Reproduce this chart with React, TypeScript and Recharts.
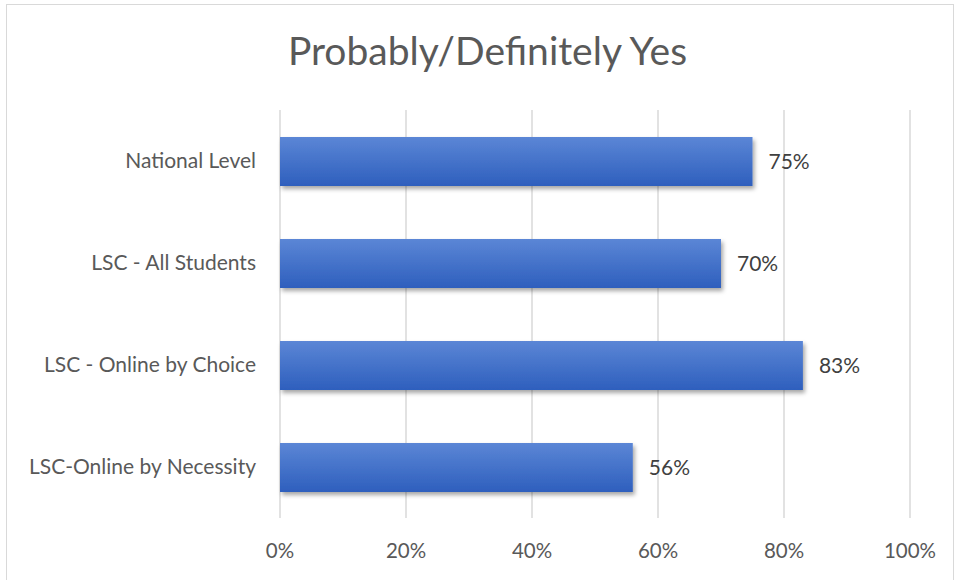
import { Bar, BarChart, CartesianGrid, LabelList, XAxis, YAxis } from "recharts";

const categories = [
  "National Level",
  "LSC - All Students",
  "LSC - Online by Choice",
  "LSC-Online by Necessity",
];
const yesShare = [75, 70, 83, 56];
const xTicks = [0, 20, 40, 60, 80, 100];

const data = categories.map((label, i) => ({ label, value: yesShare[i] }));

const FONT = "Lato, 'Open Sans', sans-serif";
const TEXT = "#595959";

export default function App() {
  return (
    <div
      style={{
        position: "absolute",
        left: 0,
        top: 0,
        width: 957,
        height: 580,
        background: "#fff",
        fontFamily: FONT,
        overflow: "hidden",
      }}
    >
      <div
        style={{
          position: "absolute",
          left: 6,
          top: 4,
          width: 948,
          height: 600,
          border: "1px solid #d9d9d9",
          boxSizing: "border-box",
        }}
      />
      <div
        style={{
          position: "absolute",
          left: 0,
          top: 27,
          width: 975,
          textAlign: "center",
          fontSize: 39,
          lineHeight: "46px",
          color: TEXT,
        }}
      >
        Probably/Definitely Yes
      </div>
      <div style={{ position: "absolute", left: 0, top: 0 }}>
        <BarChart
          width={957}
          height={580}
          data={data}
          layout="vertical"
          margin={{ top: 110, right: 47, bottom: 0, left: 0 }}
        >
          <defs>
            <linearGradient id="barFill" x1="0" y1="0" x2="0" y2="1">
              <stop offset="0%" stopColor="#5b86d6" />
              <stop offset="100%" stopColor="#2e5fbd" />
            </linearGradient>
            <filter id="barShadow" x="-5%" y="-20%" width="115%" height="160%">
              <feDropShadow dx="2" dy="3" stdDeviation="2" floodColor="#000" floodOpacity="0.35" />
            </filter>
          </defs>
          <CartesianGrid horizontal={false} stroke="#d9d9d9" strokeWidth={1.5} />
          <XAxis
            type="number"
            domain={[0, 100]}
            ticks={xTicks}
            tickFormatter={(v: number) => `${v}%`}
            axisLine={false}
            tickLine={false}
            height={62}
            tickMargin={19}
            tick={{ fill: TEXT, fontSize: 20.5, fontFamily: FONT }}
            interval={0}
          />
          <YAxis
            type="category"
            dataKey="label"
            width={280}
            axisLine={false}
            tickLine={false}
            tickMargin={18}
            tick={{ fill: TEXT, fontSize: 21, fontFamily: FONT }}
            interval={0}
          />
          <Bar
            dataKey="value"
            fill="url(#barFill)"
            barSize={49}
            filter="url(#barShadow)"
            isAnimationActive={false}
          >
            <LabelList
              dataKey="value"
              position="right"
              offset={16}
              formatter={(v: number) => `${v}%`}
              style={{ fill: "#404040", fontSize: 21, fontFamily: FONT }}
            />
          </Bar>
        </BarChart>
      </div>
    </div>
  );
}
